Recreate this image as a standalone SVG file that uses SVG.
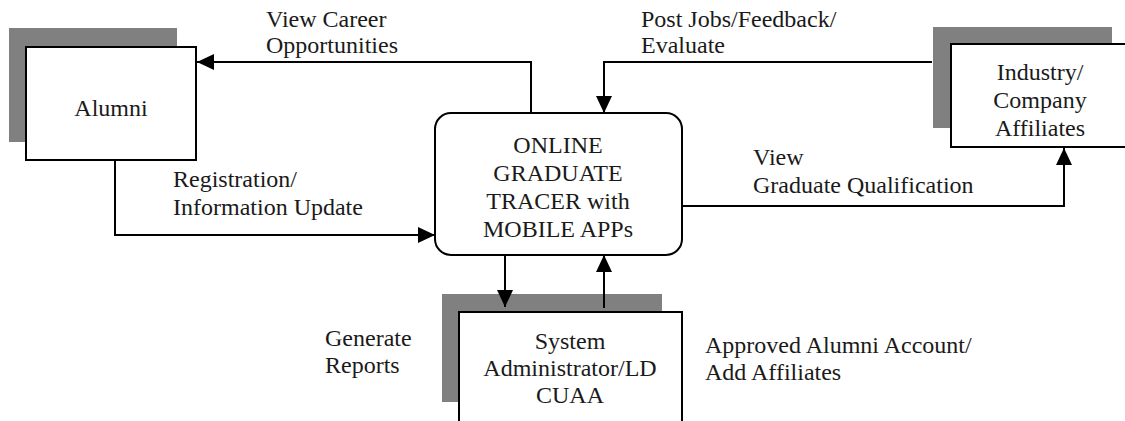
<svg xmlns="http://www.w3.org/2000/svg" width="1125" height="421" viewBox="0 0 1125 421">
<style>
.shadow{fill:#808080;stroke:none}
.box{fill:#fff;stroke:#000;stroke-width:2}
.line{fill:none;stroke:#000;stroke-width:2}
text{font-family:"Liberation Serif","Times New Roman",serif;font-size:24px;fill:#1a1a1a}
.c{text-anchor:middle}
</style>
<defs>
<marker id="arr" markerUnits="userSpaceOnUse" markerWidth="18" markerHeight="18" refX="17" refY="8" orient="auto">
<path d="M0,0 L17,8 L0,16 Z" fill="#000"/>
</marker>
</defs>
<rect width="1125" height="421" fill="#fff"/>
<g id="alumni">
<rect class="shadow" x="9" y="28" width="168" height="114"/>
<rect class="box" x="26" y="47" width="170" height="113"/>
<text class="c" x="111" y="116">Alumni</text>
</g>
<g id="industry">
<rect class="shadow" x="933" y="27" width="179" height="101"/>
<rect class="box" x="951" y="44" width="185" height="103"/>
<text class="c" x="1040" y="80">Industry/</text>
<text class="c" x="1040" y="108">Company</text>
<text class="c" x="1040" y="136">Affiliates</text>
</g>
<g id="system">
<rect class="shadow" x="442" y="294" width="220" height="108"/>
<rect class="box" x="459" y="312" width="223" height="125"/>
<text class="c" x="570" y="349">System</text>
<text class="c" x="570" y="376">Administrator/LD</text>
<text class="c" x="570" y="403">CUAA</text>
</g>
<g id="tracer">
<rect class="box" x="435" y="113" width="247" height="142" rx="16" ry="16"/>
<text class="c" x="558" y="153">ONLINE</text>
<text class="c" x="558" y="181">GRADUATE</text>
<text class="c" x="558" y="209">TRACER with</text>
<text class="c" x="558" y="237">MOBILE APPs</text>
</g>
<g id="connectors">
<path class="line" d="M531,113 V62 H197" marker-end="url(#arr)"/>
<path class="line" d="M932,62 H604 V113" marker-end="url(#arr)"/>
<path class="line" d="M682,206 H1064 V148" marker-end="url(#arr)"/>
<path class="line" d="M115,160 V235 H435" marker-end="url(#arr)"/>
<path class="line" d="M505,255 V307" marker-end="url(#arr)"/>
<path class="line" d="M604,308 V255" marker-end="url(#arr)"/>
</g>
<g id="labels">
<text x="266" y="27">View Career</text>
<text x="266" y="53">Opportunities</text>
<text x="641" y="27">Post Jobs/Feedback/</text>
<text x="641" y="53">Evaluate</text>
<text x="753" y="165">View</text>
<text x="753" y="193">Graduate Qualification</text>
<text x="173" y="187">Registration/</text>
<text x="173" y="215">Information Update</text>
<text x="325" y="346">Generate</text>
<text x="325" y="373">Reports</text>
<text x="705" y="353">Approved Alumni Account/</text>
<text x="705" y="380">Add Affiliates</text>
</g>
</svg>
